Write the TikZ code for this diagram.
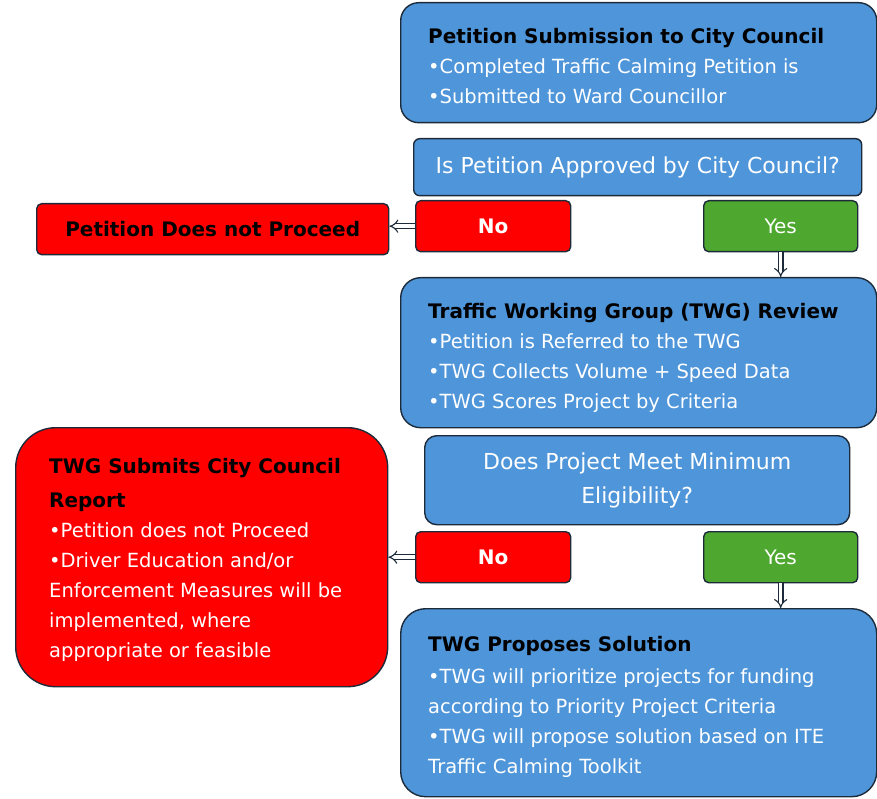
\documentclass[tikz,border=0pt]{standalone}
\usepackage{fontspec}
\setmainfont{DejaVu Sans}
\usetikzlibrary{arrows.meta}
\definecolor{boxblue}{RGB}{78,149,217}
\definecolor{boxgreen}{RGB}{78,167,46}
\definecolor{boxred}{RGB}{255,0,0}
\definecolor{edge}{RGB}{28,42,58}
\begin{document}
\begin{tikzpicture}[x=1pt,y=-1pt,
  box/.style={draw=edge, line width=1.4pt, inner sep=0pt, anchor=north west},
  bluebox/.style={box, fill=boxblue},
  redbox/.style={box, fill=boxred},
  greenbox/.style={box, fill=boxgreen},
  txt/.style={inner sep=0pt, text=white, align=left, font=\fontsize{19.5}{30}\selectfont},
  hb/.style={},
  ctxt/.style={inner sep=0pt, text=white, align=center, font=\fontsize{22}{34}\selectfont},
  head/.style={text=black, font=\bfseries\fontsize{20}{30}\selectfont},
  conn/.style={draw=edge, line width=1.1pt, double=white, double distance=3.5pt, -{Implies}}]
\useasboundingbox (0,0) rectangle (877,799);
\newcommand\headline[1]{\textcolor{black}{\bfseries\fontsize{20}{30}\selectfont #1}}

% Step 1: petition submission
\node[bluebox, rounded corners=18pt, minimum width=476pt, minimum height=120pt] (sub) at (400,2) {};
\node[txt, anchor=north west] (subtxt) at (428,28)
  {\headline{Petition Submission to City Council}\\
   •Completed Traffic Calming Petition is\\
   •Submitted to Ward Councillor};

% Council decision
\node[bluebox, rounded corners=6pt, minimum width=448pt, minimum height=57pt] (q1) at (413,138) {};
\node[ctxt] (q1txt) at (q1.center) {Is Petition Approved by City Council?};

\node[redbox, rounded corners=5pt, minimum width=155pt, minimum height=51pt] (no1) at (415,200) {};
\node[ctxt, font=\bfseries\fontsize{20}{30}\selectfont] (no1txt) at (no1.center) {No};
\node[greenbox, rounded corners=5pt, minimum width=154pt, minimum height=51pt] (yes1) at (703,200) {};
\node[ctxt, font=\fontsize{20}{30}\selectfont] (yes1txt) at (yes1.center) {Yes};

\node[redbox, rounded corners=5pt, minimum width=352pt, minimum height=51pt] (stop1) at (36,203) {};
\node[head] (stop1txt) at (stop1.center) {Petition Does not Proceed};

% Step 2: TWG review
\node[bluebox, rounded corners=20pt, minimum width=476pt, minimum height=150pt] (rev) at (400,277) {};
\node[txt, anchor=north west] (revtxt) at (428,303)
  {\headline{Traffic Working Group (TWG) Review}\\
   •Petition is Referred to the TWG\\
   •TWG Collects Volume + Speed Data\\
   •TWG Scores Project by Criteria};

% Eligibility decision
\node[bluebox, rounded corners=12pt, minimum width=425pt, minimum height=89pt] (q2) at (424,435) {};
\node[ctxt] (q2txt) at (q2.center) {Does Project Meet Minimum\\Eligibility?};

\node[redbox, rounded corners=5pt, minimum width=155pt, minimum height=51pt] (no2) at (415,531) {};
\node[ctxt, font=\bfseries\fontsize{20}{30}\selectfont] (no2txt) at (no2.center) {No};
\node[greenbox, rounded corners=5pt, minimum width=154pt, minimum height=51pt] (yes2) at (703,531) {};
\node[ctxt, font=\fontsize{20}{30}\selectfont] (yes2txt) at (yes2.center) {Yes};

\node[redbox, rounded corners=40pt, minimum width=372pt, minimum height=259pt] (stop2) at (15,427) {};
\node[txt, anchor=north west] (stop2txt) at (49,458)
  {\headline{TWG Submits City Council}\\[4pt]
   \headline{Report}\\
   •Petition does not Proceed\\
   •Driver Education and/or\\
   Enforcement Measures will be\\
   implemented, where\\
   appropriate or feasible};

% Step 3: proposed solution
\node[bluebox, rounded corners=25pt, minimum width=476pt, minimum height=188pt] (sol) at (400,608) {};
\node[txt, anchor=north west] (soltxt) at (428,636)
  {\headline{TWG Proposes Solution}\\[2pt]
   •TWG will prioritize projects for funding\\
   according to Priority Project Criteria\\
   •TWG will propose solution based on ITE\\
   Traffic Calming Toolkit};

% Connectors
\draw[conn] (no1.west) -- (no1.west -| stop1.east);
\draw[conn] (yes1.south) -- (yes1.south |- rev.north);
\draw[conn] (no2.west) -- (no2.west -| stop2.east);
\draw[conn] (yes2.south) -- (yes2.south |- sol.north);
\end{tikzpicture}
\end{document}
